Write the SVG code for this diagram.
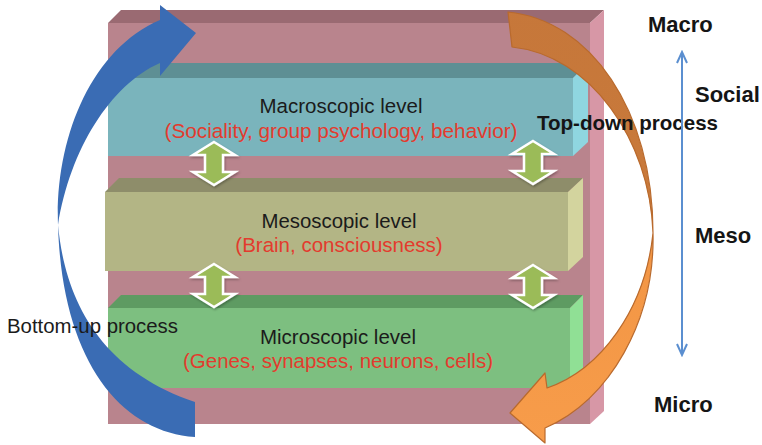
<svg xmlns="http://www.w3.org/2000/svg" width="762" height="445" viewBox="0 0 762 445">
  <style>
    .lbl { font-family: "Liberation Sans", Arial, sans-serif; font-size: 20.5px; fill: #1b1b1b; text-anchor: middle; }
    .sub { font-family: "Liberation Sans", Arial, sans-serif; font-size: 20.5px; fill: #e33b2e; text-anchor: middle; }
    .bold { font-family: "Liberation Sans", Arial, sans-serif; font-weight: bold; fill: #151515; }
    .dbl { fill: #9bbb59; stroke: #ffffff; stroke-width: 2.5; stroke-linejoin: miter; filter: url(#shadow); }
  </style>
  <defs>
    <filter id="shadow" x="-30%" y="-30%" width="160%" height="160%">
      <feDropShadow dx="1" dy="1.5" stdDeviation="1.2" flood-color="#000" flood-opacity="0.3"/>
    </filter>
    <linearGradient id="orangeGrad" gradientUnits="userSpaceOnUse" x1="0" y1="0" x2="0" y2="445">
      <stop offset="0" stop-color="#c6773a"/>
      <stop offset="0.5" stop-color="#c97a3b"/>
      <stop offset="0.56" stop-color="#f29645"/>
      <stop offset="1" stop-color="#f79c4a"/>
    </linearGradient>
    <!-- two-headed vertical arrow, 43 px tall -->
    <path id="dblArrow" d="M0,0 L21,13 L9,13 L9,30 L21,30 L0,43 L-21,30 L-9,30 L-9,13 L-21,13 Z"/>
    <marker id="openHead" viewBox="0 0 14 12" refX="12" refY="6" markerWidth="14" markerHeight="12" markerUnits="userSpaceOnUse" orient="auto-start-reverse">
      <path d="M1,1 L12,6 L1,11" fill="none" stroke="#5b8fd0" stroke-width="2"/>
    </marker>
  </defs>

  <!-- back box -->
  <g id="frame">
    <polygon points="108,23 121,10 604,10 590,23" fill="#9a6a72"/>
    <polygon points="590,23 604,10 604,411 590,424" fill="#d797a6"/>
    <rect x="108" y="23" width="482" height="401" fill="#b9848d"/>
  </g>

  <!-- macroscopic slab -->
  <g id="macro-level">
    <polygon points="108,78 122,63 588,63 573,78" fill="#5e8f94"/>
    <polygon points="573,78 588,63 588,142 573,156" fill="#8fd6e0"/>
    <rect x="108" y="78" width="465" height="78" fill="#7ab4bc"/>
    <text class="lbl" x="341" y="113" textLength="163" lengthAdjust="spacingAndGlyphs">Macroscopic level</text>
    <text class="sub" x="341" y="138" textLength="353" lengthAdjust="spacingAndGlyphs">(Sociality, group psychology, behavior)</text>
  </g>

  <!-- mesoscopic slab -->
  <g id="meso-level">
    <polygon points="105,192 119,178 583,178 568,192" fill="#8e8d6a"/>
    <polygon points="568,192 583,178 583,257 568,271" fill="#d3d49e"/>
    <rect x="105" y="192" width="463" height="79" fill="#b3b585"/>
    <text class="lbl" x="339" y="228" textLength="155" lengthAdjust="spacingAndGlyphs">Mesoscopic level</text>
    <text class="sub" x="339" y="252">(Brain, consciousness)</text>
  </g>

  <!-- microscopic slab -->
  <g id="micro-level">
    <polygon points="108,308 121,295 583,295 570,308" fill="#5e9b62"/>
    <polygon points="570,308 583,295 583,374 570,388" fill="#90e095"/>
    <rect x="108" y="308" width="462" height="80" fill="#7dbf80"/>
    <text class="lbl" x="338" y="344">Microscopic level</text>
    <text class="sub" x="338" y="368">(Genes, synapses, neurons, cells)</text>
  </g>

  <!-- connectors between levels -->
  <g id="connectors">
    <use href="#dblArrow" class="dbl" x="214" y="142"/>
    <use href="#dblArrow" class="dbl" x="533" y="141"/>
    <use href="#dblArrow" class="dbl" x="214" y="264"/>
    <use href="#dblArrow" class="dbl" x="533" y="265"/>
  </g>

  <!-- bottom-up process arrow -->
  <g id="bottom-up">
    <path d="M195,437 C120,432 62,360 58,225 C55,140 90,50 160,20 L160,5 L196,33 L160,76 L160,63 C110,85 70,150 58,225 C65,300 100,370 195,402 Z" fill="#3a6cb4"/>
    <text x="7" y="333" style="font-family:'Liberation Sans', Arial, sans-serif; font-size:19.5px; fill:#1b1b1b" textLength="171" lengthAdjust="spacingAndGlyphs">Bottom-up process</text>
  </g>

  <!-- top-down process arrow -->
  <g id="top-down">
    <path d="M508,12 C590,20 653,110 653,233 C655,320 610,400 545,428 L545,443 L510,413 L545,373 L547,388 C600,370 645,310 653,233 C650,140 590,55 512,47 Z" fill="url(#orangeGrad)" stroke="#b96a2d" stroke-width="1.2" stroke-linejoin="round"/>
    <text class="bold" x="537" y="130" font-size="20.5" textLength="181" lengthAdjust="spacingAndGlyphs">Top-down process</text>
  </g>

  <!-- scale axis -->
  <g id="scale">
    <line x1="682" y1="355" x2="682" y2="52" stroke="#5b8fd0" stroke-width="2" marker-start="url(#openHead)" marker-end="url(#openHead)"/>
    <text class="bold" x="648" y="32" font-size="22">Macro</text>
    <text class="bold" x="695" y="102" font-size="22">Social</text>
    <text class="bold" x="695" y="243" font-size="22">Meso</text>
    <text class="bold" x="654" y="412" font-size="22">Micro</text>
  </g>
</svg>
